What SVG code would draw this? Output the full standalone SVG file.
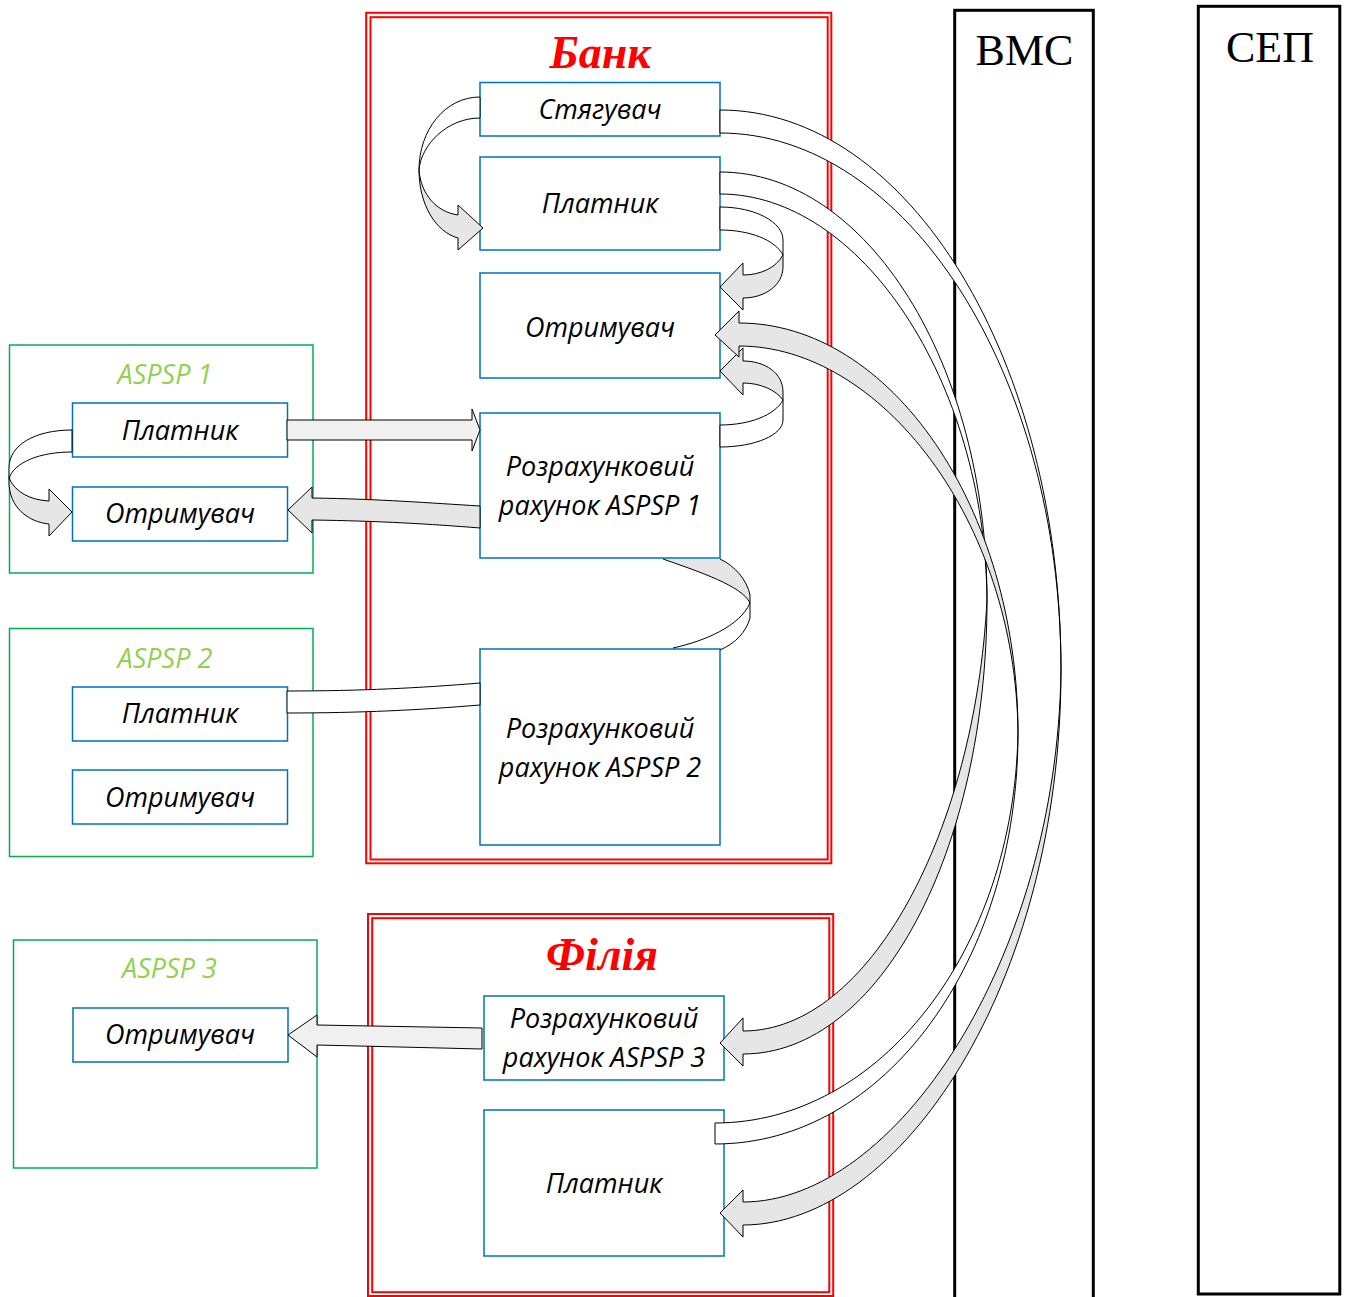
<svg xmlns="http://www.w3.org/2000/svg" width="1349" height="1297" viewBox="0 0 1349 1297">
<style>
.red{fill:none;stroke:#ff0000;stroke-width:2}
.col{fill:none;stroke:#000;stroke-width:3}
.grp{fill:#fff;stroke:#00b050;stroke-width:1.5}
.box{fill:#fff;stroke:#0070c0;stroke-width:1.5}
.t{font-family:"Open Sans","Noto Sans",sans-serif;font-style:italic;font-size:27px;fill:#000;text-anchor:middle}
.g{fill:#92d050}
.title{font-family:"Liberation Serif",serif;font-weight:bold;font-style:italic;font-size:46px;fill:#ff0000;text-anchor:middle}
.sys{font-family:"Liberation Serif",serif;font-size:44px;fill:#000;text-anchor:middle}
.w{fill:#fff;stroke:#000;stroke-width:1;stroke-linejoin:round}
.s{fill:#e6e6e6;stroke:#000;stroke-width:1}
.l{fill:#f0f0f0;stroke:#000;stroke-width:1}
.nf{stroke:none}
.ln{fill:none;stroke:#000;stroke-width:1}
</style>
<rect width="1349" height="1297" fill="#fff"/>
<g id="containers">
  <g id="bank">
    <rect class="red" x="366.2" y="12.8" width="465.1" height="850.5"/>
    <rect class="red" x="370.5" y="17.2" width="457.2" height="842.3"/>
    <text class="title" x="600" y="68">Банк</text>
  </g>
  <g id="filia">
    <rect class="red" x="368" y="914" width="465.2" height="382"/>
    <rect class="red" x="372.2" y="918.2" width="457.1" height="374"/>
    <text class="title" x="602" y="970">Філія</text>
  </g>
  <g id="vms">
    <rect class="col" x="954.7" y="10.3" width="138.6" height="1295"/>
    <text class="sys" x="1024.5" y="65">ВМС</text>
  </g>
  <g id="sep">
    <rect class="col" x="1198.3" y="6.3" width="141.5" height="1287.7"/>
    <text class="sys" x="1270" y="62">СЕП</text>
  </g>
  <g id="aspsp1">
    <rect class="grp" x="9.5" y="345" width="303.5" height="228"/>
    <text class="t g" x="165" y="384">ASPSP 1</text>
  </g>
  <g id="aspsp2">
    <rect class="grp" x="9.5" y="628.5" width="303.5" height="228"/>
    <text class="t g" x="165" y="668">ASPSP 2</text>
  </g>
  <g id="aspsp3">
    <rect class="grp" x="13.5" y="940" width="303.5" height="228"/>
    <text class="t g" x="169.5" y="978">ASPSP 3</text>
  </g>
</g>
<g id="nodes">
  <g id="n-styahuvach"><rect class="box" x="480" y="82.5" width="240" height="53.5"/><text class="t" x="600" y="119">Стягувач</text></g>
  <g id="n-platnyk-bank"><rect class="box" x="480" y="157" width="240" height="93"/><text class="t" x="600" y="213">Платник</text></g>
  <g id="n-otrymuvach-bank"><rect class="box" x="480" y="273" width="240" height="105"/><text class="t" x="600" y="337">Отримувач</text></g>
  <g id="n-acc1"><rect class="box" x="480" y="413" width="240" height="145"/><text class="t" x="600" y="476">Розрахунковий</text><text class="t" x="600" y="515">рахунок ASPSP 1</text></g>
  <g id="n-acc2"><rect class="box" x="480" y="649" width="240" height="196"/><text class="t" x="600" y="738">Розрахунковий</text><text class="t" x="600" y="777">рахунок ASPSP 2</text></g>
  <g id="n-acc3"><rect class="box" x="484" y="996" width="240" height="84"/><text class="t" x="604" y="1028">Розрахунковий</text><text class="t" x="604" y="1067">рахунок ASPSP 3</text></g>
  <g id="n-platnyk-filia"><rect class="box" x="484" y="1110" width="240" height="146"/><text class="t" x="604" y="1193">Платник</text></g>
  <g id="n-a1-platnyk"><rect class="box" x="72.5" y="403" width="215" height="54"/><text class="t" x="180" y="440">Платник</text></g>
  <g id="n-a1-otrymuvach"><rect class="box" x="72.5" y="487" width="215" height="54"/><text class="t" x="180" y="523">Отримувач</text></g>
  <g id="n-a2-platnyk"><rect class="box" x="72.5" y="687" width="215" height="54"/><text class="t" x="180" y="723">Платник</text></g>
  <g id="n-a2-otrymuvach"><rect class="box" x="72.5" y="770" width="215" height="54"/><text class="t" x="180" y="807">Отримувач</text></g>
  <g id="n-a3-otrymuvach"><rect class="box" x="73" y="1008" width="215" height="54"/><text class="t" x="180" y="1044">Отримувач</text></g>
</g>
<g id="connectors">
  <!-- Стягувач -> Платник (left loop) -->
  <path class="w" d="M480,97 C445,97 419,130 419,170 C421,145 447,118 480,118 Z"/>
  <path class="s" d="M419,170 C419,205 436,232 458,238 L458,250 L483,228 L458,205 L458,215 C437,212 421,195 419,170 Z"/>
  <!-- Платник -> Отримувач (right loop) -->
  <path class="w" d="M720,207 C755,207 783,222 783,240 L783,255 C775,240 750,230 720,230 Z"/>
  <path class="s" d="M783,255 L783,267 C783,285 765,298 743,298 L743,310 L720,287 L743,263 L743,275 C760,275 776,268 783,255 Z"/>
  <!-- Розр. ASPSP1 -> Отримувач -->
  <path class="w" d="M720,447 C755,447 783,435 783,420 L783,400 C775,415 750,425 720,425 Z"/>
  <path class="s" d="M783,400 L783,392 C783,373 765,361 743,361 L743,348 L720,371 L743,395 L743,383 C760,383 776,390 783,400 Z"/>
  <!-- ASPSP1 Платник -> Отримувач -->
  <path class="w" d="M72,430 C35,430 9,445 9,468 L9,478 C15,462 40,452 72,452 Z"/>
  <path class="s" d="M9,478 L9,482 C9,507 28,522 49,524 L49,536 L72,512 L49,489 L49,501 C30,500 15,492 9,478 Z"/>
  <!-- ASPSP1 Платник -> Розр. ASPSP1 -->
  <path class="l" d="M287,420 L472,420 L472,409 L480,430 L472,451 L472,440 L287,440 Z"/>
  <!-- Розр. ASPSP1 -> ASPSP1 Отримувач -->
  <path class="s" d="M480,506 C430,503 380,499 312,498 L312,487 L288,510 L312,533 L312,520 C380,521 430,524 480,528 Z"/>
  <!-- Розр. ASPSP1 <-> Розр. ASPSP2 -->
  <path class="s nf" d="M663,559 C700,572 742,586 750,603 L750,595 C747,580 735,566 720,559 Z"/>
  <path class="ln" d="M663,559 C700,572 742,586 750,603 M720,559 C735,566 747,580 750,595 L750,618 C746,632 736,643 720,650 M750,603 C740,626 705,641 673,648"/>
  <!-- ASPSP2 Платник - Розр. ASPSP2 -->
  <path class="w" d="M287,691 C360,691 420,688 480,683 L480,705 C420,710 360,713 287,713 Z"/>
  <!-- Розр. ASPSP3 -> ASPSP3 Отримувач -->
  <path class="l" d="M482,1028 L317,1025 L317,1015 L288,1035 L317,1057 L317,1045 L482,1049 Z"/>
  <!-- Стягувач -> Платник (Філія) -->
  <path class="w" d="M720,110 C909,110 1061,361 1061,670 C1061,372 905,133 720,133 Z"/>
  <path class="s" d="M1061,670 C1061,985 900,1225 743,1225 L743,1237 L720,1213 L743,1190 L743,1202 C895,1202 1057,960 1061,670 Z"/>
  <!-- Платник (Банк) -> Розр. ASPSP3 -->
  <path class="w" d="M720,172 C867,172 987,364 987,600 C985,380 860,194 720,194 Z"/>
  <path class="s" d="M987,600 C987,850 880,1054 743,1054 L743,1066 L720,1043 L743,1018 L743,1031 C870,1031 975,830 987,600 Z"/>
  <!-- Платник (Філія) -> Отримувач (Банк) -->
  <path class="s" d="M739,323 C890,323 1018,507 1018,733 C1016,520 880,346 739,346 L739,357 L715,335 L739,311 Z"/>
  <path class="w" d="M1018,733 C1018,960 885,1144 715,1144 L715,1123 C880,1123 1014,950 1018,733 Z"/>
</g>
</svg>
